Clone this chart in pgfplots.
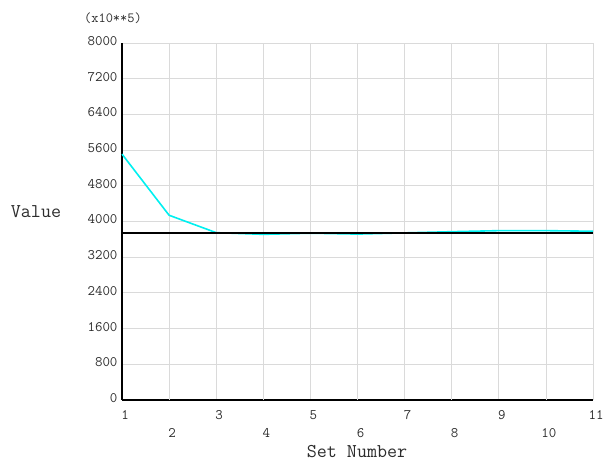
\documentclass[border=0pt]{standalone}
\usepackage{pgfplots}
\pgfplotsset{compat=1.18}
\definecolor{gridgray}{RGB}{218,218,218}
\definecolor{labgray}{RGB}{45,45,45}
\definecolor{cy}{RGB}{0,240,240}
\begin{document}
\begin{tikzpicture}[x=1pt,y=1pt]
\path[use as bounding box] (-122,-63) rectangle (486,400);
\begin{axis}[
  at={(0,0)}, anchor=south west,
  scale only axis, width=471pt, height=357pt,
  xmin=1, xmax=11, ymin=0, ymax=8000,
  axis x line*=bottom, axis y line*=left,
  axis line style={line width=1.6pt, black},
  xtick={1,3,5,7,9,11},
  extra x ticks={2,4,6,8,10},
  extra x tick style={grid=major, tick label style={yshift=-18pt}},
  ytick={0,800,...,8000},
  major tick length=0pt,
  grid=major,
  major grid style={gridgray, line width=0.8pt},
  /pgf/number format/assume math mode=true,
  /pgf/number format/set thousands separator={},
  tick label style={font=\ttfamily\fontsize{14.5}{16}\selectfont, text=labgray},
  x tick label style={yshift=-7pt, xshift=3pt},
  y tick label style={yshift=2pt, xshift=-1pt},
  scaled y ticks=false,
  clip=false,
]
\addplot[cy, line width=1.6pt] coordinates {
 (1,5510) (2,4140) (3,3750) (4,3712) (5,3738) (6,3718) (7,3745) (8,3772) (9,3795) (10,3795) (11,3782)
};
\addplot[black, line width=1.8pt] coordinates {(1,3742) (11,3742)};
\end{axis}
\node[font=\ttfamily\fontsize{19.5}{22}\selectfont, text=labgray] at (-86,188) {Value};
\node[font=\ttfamily\fontsize{19.5}{22}\selectfont, text=labgray] at (235,-52) {Set Number};
\node[font=\ttfamily\fontsize{14}{16}\selectfont, text=labgray] at (-9,382) {(x10**5)};
\end{tikzpicture}
\end{document}
